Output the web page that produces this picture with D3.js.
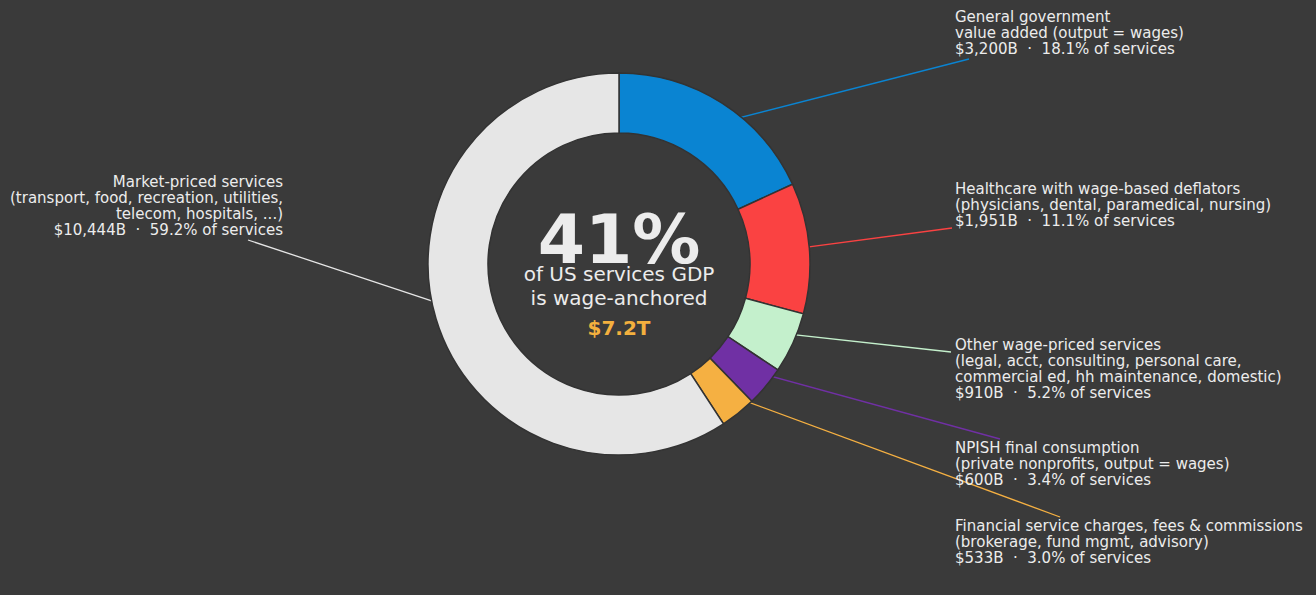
<!DOCTYPE html>
<html>
<head>
<meta charset="utf-8">
<script src="https://cdn.jsdelivr.net/npm/d3@7"></script>
<style>
  html, body { margin: 0; padding: 0; background: #3a3a3a; }
  svg { display: block; }
  text { font-family: "DejaVu Sans", sans-serif; fill: #ececec; }
</style>
</head>
<body>
<div id="chart"></div>
<script>
// Slice order, clockwise from 12 o'clock
const categories = ['gov', 'health', 'other', 'npish', 'fin', 'market'];
const values = [3200, 1951, 910, 600, 533, 10444];   // $B
const wageAnchored = [true, true, true, true, true, false];
const labelLines = [
    ['General government', 'value added (output = wages)'],
    ['Healthcare with wage-based deflators', '(physicians, dental, paramedical, nursing)'],
    ['Other wage-priced services', '(legal, acct, consulting, personal care,', 'commercial ed, hh maintenance, domestic)'],
    ['NPISH final consumption', '(private nonprofits, output = wages)'],
    ['Financial service charges, fees & commissions', '(brokerage, fund mgmt, advisory)'],
    ['Market-priced services', '(transport, food, recreation, utilities,', 'telecom, hospitals, ...)']
];
const colors = ['#0a84d2', '#fa4242', '#c4f0cc', '#7030a4', '#f5b042', '#e6e6e6'];

// Label layout: text anchor, first baseline, and where the leader line ends
const labelLayout = [
    { x: 955, y: 22, anchor: 'start', lx: 969, ly: 59 },
    { x: 955, y: 194, anchor: 'start', lx: 952, ly: 228 },
    { x: 955, y: 350, anchor: 'start', lx: 951, ly: 352 },
    { x: 955, y: 453, anchor: 'start', lx: 1000, ly: 439 },
    { x: 955, y: 531, anchor: 'start', lx: 1060, ly: 517 },
    { x: 283, y: 187, anchor: 'end', lx: 248, ly: 240 }
];

const width = 1316, height = 595;
const cx = 619, cy = 264;
const outerR = 191, innerR = 131;
const lineH = 16;

const total = d3.sum(values);
const wageTotal = d3.sum(values.filter((v, i) => wageAnchored[i]));

const svg = d3.select('#chart').append('svg')
    .attr('width', width)
    .attr('height', height);

svg.append('rect')
    .attr('width', width)
    .attr('height', height)
    .attr('fill', '#3a3a3a');

const data = categories.map((c, i) => ({ key: c, value: values[i], i: i }));

const pie = d3.pie()
    .value(d => d.value)
    .sort(null);

const arcs = pie(data);

const arc = d3.arc()
    .innerRadius(innerR)
    .outerRadius(outerR);

const g = svg.append('g')
    .attr('transform', `translate(${cx},${cy})`);

// Leader lines first so the ring covers their start
const anchorR = 164;
g.selectAll('.leader')
    .data(arcs)
    .join('line')
    .attr('class', 'leader')
    .attr('x1', d => anchorR * Math.sin((d.startAngle + d.endAngle) / 2))
    .attr('y1', d => -anchorR * Math.cos((d.startAngle + d.endAngle) / 2))
    .attr('x2', d => labelLayout[d.data.i].lx - cx)
    .attr('y2', d => labelLayout[d.data.i].ly - cy)
    .attr('stroke', d => colors[d.data.i])
    .attr('stroke-width', 1.3);

// Donut slices
g.selectAll('.slice')
    .data(arcs)
    .join('path')
    .attr('class', 'slice')
    .attr('d', arc)
    .attr('fill', d => colors[d.data.i])
    .attr('stroke', '#333333')
    .attr('stroke-width', 1.5);

// Slice labels
const fmtB = d3.format(',');
const labels = svg.selectAll('.label')
    .data(data)
    .join('text')
    .attr('class', 'label')
    .attr('x', d => labelLayout[d.i].x)
    .attr('y', d => labelLayout[d.i].y)
    .attr('text-anchor', d => labelLayout[d.i].anchor)
    .style('font-size', '15px');

labels.selectAll('tspan')
    .data(d => labelLines[d.i].concat([
        `$${fmtB(d.value)}B  \u00b7  ${(d.value / total * 100).toFixed(1)}% of services`
    ]).map(t => ({ t: t, x: labelLayout[d.i].x })))
    .join('tspan')
    .attr('x', d => d.x)
    .attr('dy', (d, j) => j === 0 ? 0 : lineH)
    .attr('xml:space', 'preserve')
    .style('white-space', 'pre')
    .text(d => d.t);

// Center text
const center = svg.append('g')
    .attr('transform', `translate(${cx},0)`)
    .attr('text-anchor', 'middle');

center.append('text')
    .attr('y', 263)
    .style('font-size', '68px')
    .style('font-weight', 'bold')
    .text(`${Math.round(wageTotal / total * 100)}%`);

center.append('text')
    .attr('y', 281)
    .style('font-size', '20px')
    .text('of US services GDP');

center.append('text')
    .attr('y', 305)
    .style('font-size', '20px')
    .text('is wage-anchored');

center.append('text')
    .attr('y', 335)
    .style('font-size', '20px')
    .style('font-weight', 'bold')
    .style('fill', '#f3b03e')
    .text(`$${(wageTotal / 1000).toFixed(1)}T`);
</script>
</body>
</html>
